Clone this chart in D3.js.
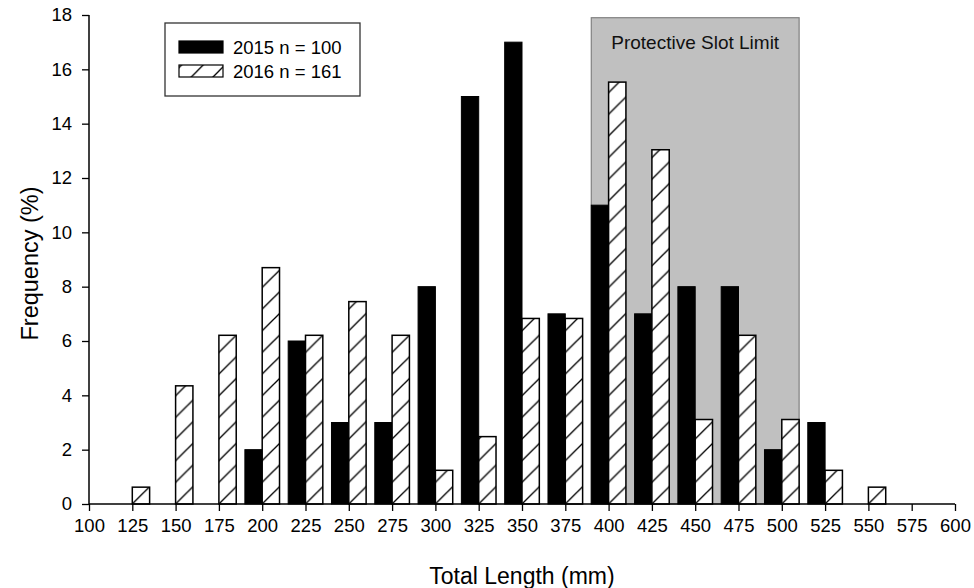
<!DOCTYPE html>
<html>
<head>
<meta charset="utf-8">
<script src="https://cdn.jsdelivr.net/npm/d3@7"></script>
<style>
  html, body { margin: 0; padding: 0; background: #fff; }
  svg { display: block; font-family: "Liberation Sans", Arial, sans-serif; }
</style>
</head>
<body>
<svg id="chart" width="974" height="588"></svg>
<script>
// Length-frequency of the catch, 25 mm bins
const bins2015 = [200, 225, 250, 275, 300, 325, 350, 375, 400, 425, 450, 475, 500, 525];
const freq2015 = [2, 6, 3, 3, 8, 15, 17, 7, 11, 7, 8, 8, 2, 3];

const bins2016 = [125, 150, 175, 200, 225, 250, 275, 300, 325, 350, 375, 400, 425, 450, 475, 500, 525, 550];
const freq2016 = [0.62, 4.35, 6.21, 8.70, 6.21, 7.45, 6.21, 1.24, 2.48, 6.83, 6.83, 15.53, 13.04, 3.11, 6.21, 3.11, 1.24, 0.62];

const seriesLabels = ["2015 n = 100", "2016 n = 161"];

// Protective slot limit band (mm) and its label
const slotRange = [390, 510];
const slotTop = 17.9;
const slotLabel = "Protective Slot Limit";

const xTicks = d3.range(100, 601, 25);
const yTicks = d3.range(0, 19, 2);

const svg = d3.select("#chart");

const x = d3.scaleLinear().domain([100, 600]).range([89, 955]);
const y = d3.scaleLinear().domain([0, 18]).range([504, 15]);

const binWidth = 25;
const barFrac = 0.4;           // bar width as a fraction of the bin
const barW = binWidth * barFrac;

// Diagonal hatch, tile size tied to the bin spacing so every bar starts in phase
const step = x(125) - x(100);
const tile = step / 2;
const defs = svg.append("defs");
const pat = defs.append("pattern")
  .attr("id", "hatch")
  .attr("patternUnits", "userSpaceOnUse")
  .attr("x", x(100))
  .attr("y", y(0))
  .attr("width", tile)
  .attr("height", tile);
pat.append("rect").attr("width", tile).attr("height", tile).attr("fill", "#fff");
[[0, tile, tile, 0], [-2, 2, 2, -2], [tile - 2, tile + 2, tile + 2, tile - 2]].forEach(([x1, y1, x2, y2]) => {
  pat.append("line")
    .attr("x1", x1).attr("y1", y1)
    .attr("x2", x2).attr("y2", y2)
    .attr("stroke", "#000").attr("stroke-width", 1.3);
});

// Slot limit band
svg.append("rect")
  .attr("x", x(slotRange[0]))
  .attr("y", y(slotTop))
  .attr("width", x(slotRange[1]) - x(slotRange[0]))
  .attr("height", y(0) - y(slotTop))
  .attr("fill", "#c0c0c0")
  .attr("stroke", "#808080")
  .attr("stroke-width", 1.2);

svg.append("text")
  .attr("x", (x(slotRange[0]) + x(slotRange[1])) / 2)
  .attr("y", 48.5)
  .attr("text-anchor", "middle")
  .attr("font-size", 19)
  .attr("fill", "#111")
  .text(slotLabel);

// 2015 bars: solid, left of the bin tick
svg.append("g").selectAll("rect")
  .data(bins2015.map((b, i) => ({ b, v: freq2015[i] })))
  .join("rect")
  .attr("x", d => x(d.b - barW))
  .attr("y", d => y(d.v))
  .attr("width", d => x(d.b) - x(d.b - barW))
  .attr("height", d => y(0) - y(d.v))
  .attr("fill", "#000")
  .attr("stroke", "#000")
  .attr("stroke-width", 1);

// 2016 bars: hatched, right of the bin tick
svg.append("g").selectAll("rect")
  .data(bins2016.map((b, i) => ({ b, v: freq2016[i] })))
  .join("rect")
  .attr("x", d => x(d.b))
  .attr("y", d => y(d.v))
  .attr("width", d => x(d.b + barW) - x(d.b))
  .attr("height", d => y(0) - y(d.v))
  .attr("fill", "url(#hatch)")
  .attr("stroke", "#000")
  .attr("stroke-width", 1.5);

// Axes
const xAxis = d3.axisBottom(x).tickValues(xTicks).tickSize(7).tickPadding(8).tickFormat(d3.format("d"));
const yAxis = d3.axisLeft(y).tickValues(yTicks).tickSize(7).tickPadding(10).tickFormat(d3.format("d"));

const gx = svg.append("g").attr("transform", `translate(0,${y(0)})`).call(xAxis);
const gy = svg.append("g").attr("transform", `translate(${x(100)},0)`).call(yAxis);

[gx, gy].forEach(g => {
  g.select(".domain").attr("stroke", "#000").attr("stroke-width", 1.5);
  g.selectAll(".tick line").attr("stroke", "#000").attr("stroke-width", 1.3);
  g.selectAll(".tick text")
    .attr("font-size", 18.5)
    .attr("font-family", "'Liberation Sans', Arial, sans-serif")
    .attr("fill", "#000");
});
gx.select(".domain").attr("d", `M${x(100)},0H${x(600)}`);
gy.select(".domain").attr("d", `M0,${y(18)}V${y(0)}`);

// Axis titles
svg.append("text")
  .attr("x", (x(100) + x(600)) / 2)
  .attr("y", 584)
  .attr("text-anchor", "middle")
  .attr("font-size", 23)
  .attr("fill", "#000")
  .text("Total Length (mm)");

svg.append("text")
  .attr("transform", `translate(38,${(y(0) + y(18)) / 2 + 4}) rotate(-90)`)
  .attr("text-anchor", "middle")
  .attr("font-size", 23.5)
  .attr("fill", "#000")
  .text("Frequency (%)");

// Legend
const lg = svg.append("g");
lg.append("rect")
  .attr("x", 165).attr("y", 23)
  .attr("width", 195).attr("height", 73)
  .attr("fill", "#fff")
  .attr("stroke", "#333")
  .attr("stroke-width", 1.3);

const legendFills = ["#000", "url(#hatch)"];
const legendRows = [47, 71];
seriesLabels.forEach((lab, i) => {
  lg.append("rect")
    .attr("x", 179).attr("y", legendRows[i] - 6)
    .attr("width", 44).attr("height", 12)
    .attr("fill", legendFills[i])
    .attr("stroke", "#000")
    .attr("stroke-width", 1.2);
  lg.append("text")
    .attr("x", 233).attr("y", legendRows[i] + 6.5)
    .attr("font-size", 18.5)
    .attr("fill", "#000")
    .text(lab);
});
</script>
</body>
</html>
